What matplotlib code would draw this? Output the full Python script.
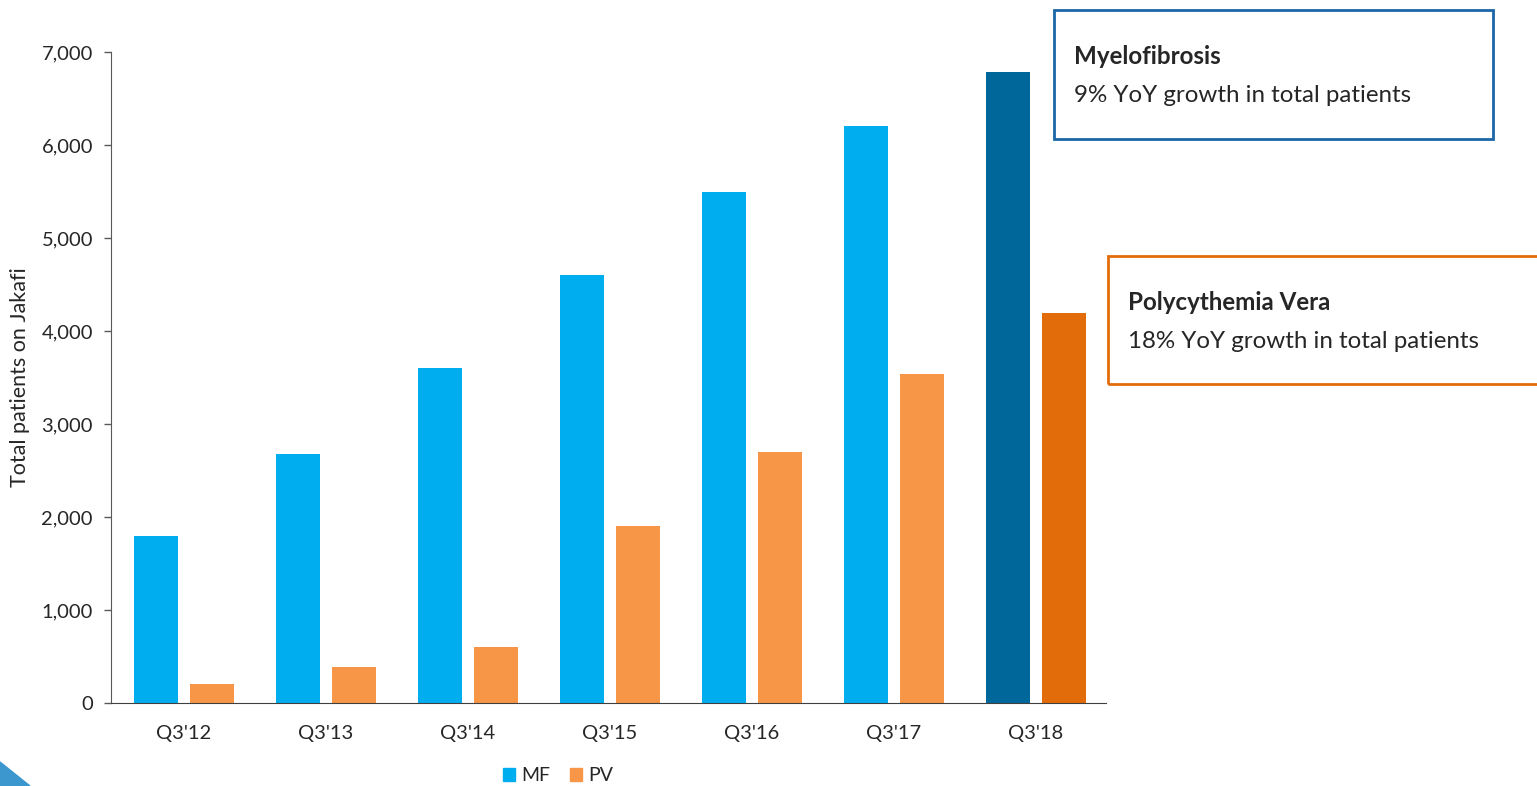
import matplotlib.pyplot as plt
from matplotlib.patches import Rectangle, Polygon

plt.rcParams['font.family'] = ['Lato', 'DejaVu Sans']

quarters = ["Q3'12", "Q3'13", "Q3'14", "Q3'15", "Q3'16", "Q3'17", "Q3'18"]
mf = [1800, 2680, 3600, 4600, 5500, 6200, 6790]
pv = [200, 390, 600, 1900, 2700, 3540, 4190]

mf_color = '#00AEEF'
pv_color = '#F79646'
mf_last = '#00679A'
pv_last = '#E36C0A'
text_color = '#262626'

fig = plt.figure(figsize=(15.37, 7.86), dpi=100)
ax = fig.add_axes([0.0722, 0.1056, 0.6474, 0.8282])

x = list(range(len(quarters)))
w = 0.31
off = 0.195
mf_cols = [mf_color] * (len(x) - 1) + [mf_last]
pv_cols = [pv_color] * (len(x) - 1) + [pv_last]
ax.bar([i - off for i in x], mf, width=w, color=mf_cols, label='MF')
ax.bar([i + off for i in x], pv, width=w, color=pv_cols, label='PV')

ax.set_xlim(-0.514, 6.493)
ax.set_ylim(0, 7000)
ax.set_yticks(range(0, 7001, 1000))
ax.set_yticklabels([f'{v:,}' for v in range(0, 7001, 1000)])
ax.set_xticks(x)
ax.set_xticklabels(quarters)
ax.tick_params(axis='x', length=0, pad=16, labelsize=14.5, colors=text_color)
ax.tick_params(axis='y', length=5, width=1, pad=8, labelsize=14.5, colors=text_color)
ax.tick_params(axis='y', color='#595959')
for s in ['top', 'right']:
    ax.spines[s].set_visible(False)
ax.spines['left'].set_color('#595959')
ax.spines['bottom'].set_color('#404040')
ax.set_ylabel('Total patients on Jakafi', fontsize=15.5, color=text_color)
ax.yaxis.set_label_coords(-0.081, 0.5)

# legend with square markers below the plot
h1 = Rectangle((0, 0), 1, 1, color=mf_color)
h2 = Rectangle((0, 0), 1, 1, color=pv_color)
fig.legend([h1, h2], ['MF', 'PV'], loc='center', bbox_to_anchor=(0.363, 0.013),
           ncol=2, frameon=False, fontsize=14, handlelength=0.65, handleheight=0.65,
           handletextpad=0.3, columnspacing=1.0, labelcolor=text_color)

W, H = 1537, 786


def box(x0, y0, x1, y1, edge, title, body):
    fig.patches.append(Rectangle((x0 / W, 1 - y1 / H), (x1 - x0) / W, (y1 - y0) / H,
                                 transform=fig.transFigure, fill=False,
                                 edgecolor=edge, linewidth=2))
    fig.text((x0 + 20) / W, 1 - (y0 + 47) / H, title, fontsize=17.4, fontweight='bold',
             color=text_color, va='center')
    fig.text((x0 + 20) / W, 1 - (y0 + 85) / H, body, fontsize=17.4,
             color=text_color, va='center')


box(1054, 10, 1493, 139, '#1B67A8', 'Myelofibrosis', '9% YoY growth in total patients')
box(1108, 256, 1545, 384, '#E36C0A', 'Polycythemia Vera', '18% YoY growth in total patients')

# slide corner decoration
fig.patches.append(Polygon([(0, 1 - 762 / H), (30 / W, 0), (0, 0)],
                           transform=fig.transFigure, color='#3D97CF'))

fig.savefig('out.png', dpi=100)
